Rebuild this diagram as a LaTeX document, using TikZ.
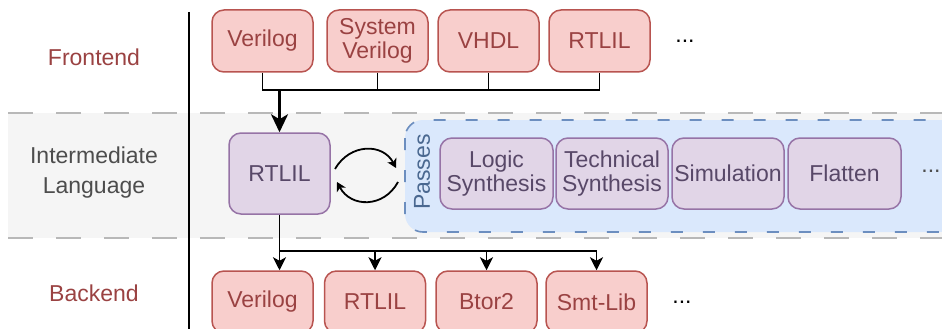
\documentclass[tikz,border=0pt]{standalone}
\usepackage{fontspec}
\setmainfont{Liberation Sans}
\usetikzlibrary{arrows.meta}

\definecolor{redfill}{HTML}{F8CECC}
\definecolor{redline}{HTML}{B85450}
\definecolor{redtext}{HTML}{9A4242}
\definecolor{purfill}{HTML}{E1D5E7}
\definecolor{purline}{HTML}{9673A6}
\definecolor{purtext}{HTML}{584868}
\definecolor{bluefill}{HTML}{DAE8FC}
\definecolor{blueline}{HTML}{6C8EBF}
\definecolor{bluetext}{HTML}{4A6890}
\definecolor{bandfill}{HTML}{F5F5F5}
\definecolor{bandline}{HTML}{B8B8B8}
\definecolor{labeltext}{HTML}{4D4D4D}

\tikzset{
  txt/.style={font=\fontsize{23}{23.5}\selectfont, align=center, inner sep=0pt},
  box/.style={txt, draw, rounded corners=12pt, line width=1.5pt,
    minimum width=101pt, minimum height=62pt},
  redbox/.style={box, fill=redfill, draw=redline, text=redtext},
  purbox/.style={box, fill=purfill, draw=purline, text=purtext},
  passbox/.style={purbox, minimum height=71pt},
  wire/.style={line width=1.8pt, black},
  mainwire/.style={line width=2.8pt, black},
  tip/.style={-{Stealth[length=13pt, width=13pt, inset=3.5pt]}},
  bigtip/.style={-{Stealth[length=18pt, width=17pt, inset=5pt]}},
  looptip/.style={-{Stealth[length=9pt, width=10pt, inset=2.5pt]}},
  dots/.style={txt},
}

\begin{document}
\begin{tikzpicture}[x=1pt, y=-1pt]
  \useasboundingbox (0,0) rectangle (942,329);
  \clip (0,0) rectangle (942,329);

  % grey band for the intermediate layer
  \fill[bandfill] (8,113) rectangle (960,238);
  \draw[bandline, line width=2pt, dash pattern=on 25pt off 23pt] (8,113) -- (960,113);
  \draw[bandline, line width=2pt, dash pattern=on 25pt off 23pt] (8,238) -- (960,238);

  % separator between row titles and contents
  \draw[line width=1.6pt] (189,12) -- (189,335);

  % row titles
  \node[txt, text=redtext] (tfront) at (94,57) {Frontend};
  \node[txt, text=labeltext, font=\fontsize{23}{30}\selectfont] (tinter) at (94,172.5) {Intermediate\\Language};
  \node[txt, text=redtext] (tback) at (94,293) {Backend};

  % frontends
  \node[redbox] (fv) at (262.5,41) {Verilog};
  \node[redbox] (fs) at (377.5,41) {System\\Verilog};
  \node[redbox] (fh) at (488.5,41) {VHDL};
  \node[redbox] (fr) at (599.5,41) {RTLIL};
  \node[dots, text=black] (fdots) at (685,41) {...};

  % intermediate representation
  \node[purbox, minimum height=81pt] (rtlil) at (279.5,173.5) {RTLIL};

  % pass container
  \draw[blueline, fill=bluefill, line width=1.6pt, dash pattern=on 12pt off 20pt,
        rounded corners=18pt] (405,120) rectangle (958,232);
  \node[txt, text=bluetext, rotate=90] (passes) at (422,172) {Passes};
  \node[passbox, minimum width=113pt] (plogic) at (496.5,173.5) {Logic\\Synthesis};
  \node[passbox, minimum width=112pt] (ptech) at (612,173.5) {Technical\\Synthesis};
  \node[passbox, minimum width=112pt] (psim) at (728,173.5) {Simulation};
  \node[passbox, minimum width=113pt] (pflat) at (844.5,173.5) {Flatten};
  \node[dots, text=labeltext] (pdots) at (931,171) {...};

  % backends
  \node[redbox] (bv) at (262.5,302) {Verilog};
  \node[redbox] (br) at (375,302) {RTLIL};
  \node[redbox] (bb) at (486.5,302) {Btor2};
  \node[redbox] (bs) at (596.5,302) {Smt-Lib};
  \node[dots, text=black] (bdots) at (682,302) {...};

  % frontends feed into RTLIL
  \coordinate (busT) at (279.5,90);
  \draw[wire] (fv.south) -- (fv.south |- busT) -- (fr.south |- busT) -- (fr.south);
  \draw[wire] (fs.south) -- (fs.south |- busT);
  \draw[wire] (fh.south) -- (fh.south |- busT);
  \draw[mainwire, bigtip] (busT) -- (rtlil.north);

  % round trip between RTLIL and the passes
  \coordinate (loopA) at (335,169);
  \coordinate (loopB) at (396,168);
  \coordinate (loopC) at (398,182);
  \coordinate (loopD) at (337,182);
  \draw[wire, looptip] (loopA) .. controls (350,143) and (383,143) .. (loopB);
  \draw[wire, looptip] (loopC) .. controls (384,208) and (351,208) .. (loopD);

  % RTLIL fans out to the backends
  \coordinate (busB) at (279.5,251);
  \draw[wire, tip] (rtlil.south) -- (rtlil.south |- bv.north);
  \draw[wire, tip] (busB) -| (br.north);
  \draw[wire, tip] (busB) -| (bb.north);
  \draw[wire, tip] (busB) -| (bs.north);
\end{tikzpicture}
\end{document}
